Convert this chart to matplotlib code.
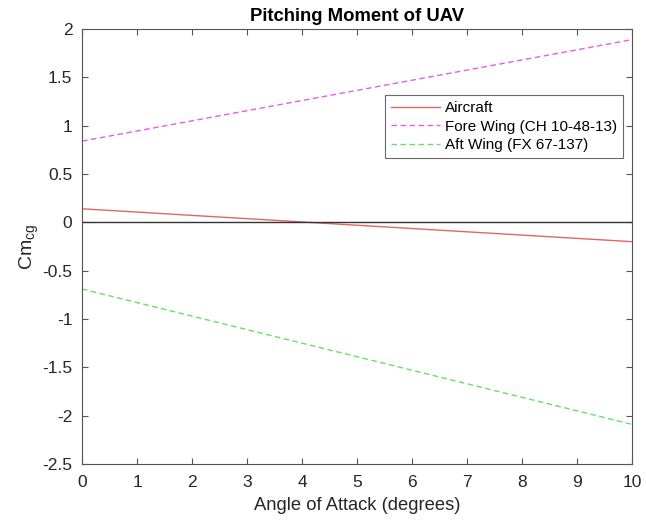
import matplotlib
matplotlib.use("Agg")
import matplotlib.pyplot as plt

alpha = [0, 10]
cm_aircraft = [0.14, -0.20]
cm_fore = [0.84, 1.89]
cm_aft = [-0.69, -2.09]
labels = ["Aircraft", "Fore Wing (CH 10-48-13)", "Aft Wing (FX 67-137)"]
xticks = list(range(0, 11))
yticks = [-2.5, -2, -1.5, -1, -0.5, 0, 0.5, 1, 1.5, 2]

plt.rcParams['font.family'] = ['Liberation Sans', 'DejaVu Sans']
plt.rcParams['mathtext.fontset'] = 'custom'
plt.rcParams['mathtext.rm'] = 'Liberation Sans'
fig = plt.figure(figsize=(6.46, 5.20), dpi=100)
ax = fig.add_axes([82/646, 1-464/520, (632-82)/646, (464-29)/520])

ax.plot(alpha, cm_aircraft, color='#e06666', lw=1.0, label=labels[0])
ax.plot(alpha, cm_fore, color='#e85ce8', lw=1.0, ls=(0, (4, 2.5)), label=labels[1])
ax.plot(alpha, cm_aft, color='#66e066', lw=1.0, ls=(0, (4, 2.5)), label=labels[2])
ax.axhline(0, color='#333333', lw=1.0)

ax.set_xlim(0, 10)
ax.set_ylim(-2.5, 2)
ax.set_xticks(xticks)
ax.set_yticks(yticks)
ax.set_yticklabels([f"{v:g}" for v in yticks])
ax.tick_params(direction='in', top=True, right=True, labelsize=12.5, length=4,
               color='#555555', labelcolor='#262626')
ax.tick_params(axis='x', pad=8)
ax.tick_params(axis='y', pad=7)
for s in ax.spines.values():
    s.set_color('#555555')
    s.set_linewidth(0.8)

ax.set_xlabel("Angle of Attack (degrees)", fontsize=13.2, color='#262626', labelpad=5)
ax.set_ylabel(r"Cm$_{\mathrm{cg}}$", fontsize=14, color='#262626', labelpad=1)
ax.set_title("Pitching Moment of UAV", fontsize=13.3, fontweight='bold', pad=6)

leg = ax.legend(loc='upper right', bbox_to_anchor=((623-82)/550, (464-95)/435),
                fontsize=11, frameon=True, fancybox=False, edgecolor='#444444',
                handlelength=3.2, borderpad=0.4, labelspacing=0.3, handletextpad=0.3,
                borderaxespad=0)
leg.get_frame().set_linewidth(0.8)

fig.savefig("out.png", dpi=100)
